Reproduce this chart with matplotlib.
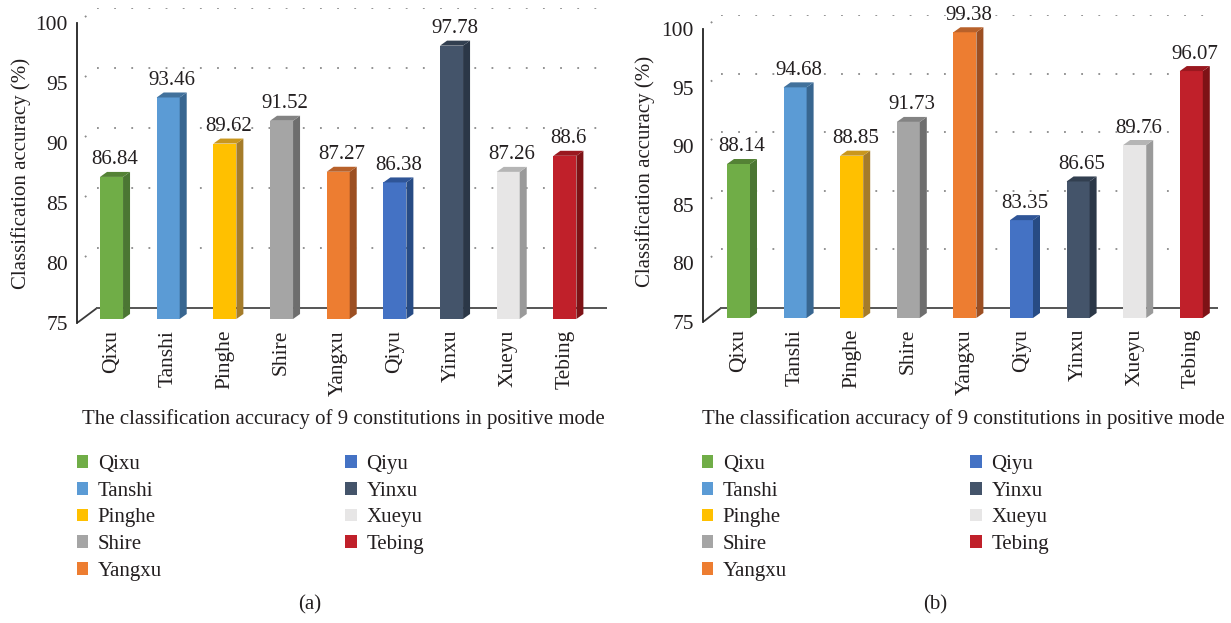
import numpy as np
import matplotlib
matplotlib.use("Agg")
import matplotlib.pyplot as plt
from matplotlib.patches import Polygon, Patch

# ---------------- data ----------------
categories = ["Qixu", "Tanshi", "Pinghe", "Shire", "Yangxu", "Qiyu", "Yinxu", "Xueyu", "Tebing"]
acc_a = [86.84, 93.46, 89.62, 91.52, 87.27, 86.38, 97.78, 87.26, 88.6]
acc_b = [88.14, 94.68, 88.85, 91.73, 99.38, 83.35, 86.65, 89.76, 96.07]
labels_a = ["86.84", "93.46", "89.62", "91.52", "87.27", "86.38", "97.78", "87.26", "88.6"]
labels_b = ["88.14", "94.68", "88.85", "91.73", "99.38", "83.35", "86.65", "89.76", "96.07"]
yticks = [75, 80, 85, 90, 95, 100]
ylabel = "Classification accuracy (%)"
xlabel = "The classification accuracy of 9 constitutions in positive mode"

front_colors = ["#70AD47", "#5B9BD5", "#FFC000", "#A5A5A5", "#ED7D31",
                "#4472C4", "#44546A", "#E7E6E6", "#C0202A"]
side_colors = ["#4B7633", "#386690", "#A57C2A", "#6E6E6E", "#9C4F22",
               "#274B84", "#2B3747", "#9A9A9A", "#7E1216"]
top_colors = ["#548235", "#41719C", "#C9971E", "#838383", "#B8612A",
              "#2F5597", "#323F50", "#B5B5B5", "#9A181F"]

plt.rcParams["font.family"] = ["Liberation Serif", "DejaVu Serif"]
FS = 15
TXT = "#231f20"

W, H = 1231, 623
fig = plt.figure(figsize=(W / 100, H / 100), dpi=100)


def panel(vals, labels, x0, xr, y75, y100, s, back_px, bar_off_px, xlab_c, ylab_c, tag_c, leg_xy, colsp):
    ppu = (y75 - y100) / 25.0
    ytop = y100 - back_px[1]
    ax = fig.add_axes([x0 / W, 1 - y75 / H, (xr - x0) / W, (y75 - ytop) / H])
    ax.set_xlim(-0.5, -0.5 + (xr - x0) / s)
    ax.set_ylim(75, 75 + (y75 - ytop) / ppu)
    bdx, bdy = back_px[0] / s, back_px[1] / ppu
    odx, ody = bar_off_px[0] / s, bar_off_px[1] / ppu
    bw = 23 / s
    ddx, ddy = 7 / s, 5 / ppu
    xend = ax.get_xlim()[1]
    x_left = -0.5

    # walls / floor
    ax.plot([x_left, x_left + bdx], [75, 75 + bdy], color="#3a3a3a", lw=1.3, zorder=1,
            solid_capstyle="butt")
    ax.plot([x_left + bdx, xend], [75 + bdy, 75 + bdy], color="#555555", lw=1.4, zorder=1)
    for v in yticks[1:]:
        ax.plot([x_left + bdx, xend], [v + bdy, v + bdy], color="#8a8a8a", lw=1.3,
                ls=(0, (1, 8.5)), zorder=1)
        ax.plot([x_left, x_left + bdx], [v, v + bdy], color="#8a8a8a", lw=1.3,
                ls=(4, (1, 8.5)), zorder=1)

    idx = np.arange(len(vals))
    xc = idx + odx
    heights = [v - 75 for v in vals]
    ax.bar(xc, heights, bottom=75 + ody, width=bw, color=front_colors, zorder=3,
           linewidth=0)
    for i, v in enumerate(vals):
        xl, xr_ = xc[i] - bw / 2, xc[i] + bw / 2
        yb, yt = 75 + ody, v + ody
        ax.add_patch(Polygon([(xr_, yb), (xr_ + ddx, yb + ddy), (xr_ + ddx, yt + ddy), (xr_, yt)],
                             closed=True, facecolor=side_colors[i], edgecolor="none", zorder=3))
        ax.add_patch(Polygon([(xl, yt), (xl + ddx, yt + ddy), (xr_ + ddx, yt + ddy), (xr_, yt)],
                             closed=True, facecolor=top_colors[i], edgecolor="none", zorder=3))
        ax.text(xc[i] + ddx / 2, yt + ddy + 2.5 / ppu, labels[i], ha="center", va="bottom",
                fontsize=FS, color=TXT, zorder=4)

    for sp in ["top", "right", "bottom"]:
        ax.spines[sp].set_visible(False)
    ax.spines["left"].set_bounds(75, 100)
    ax.spines["left"].set_color("#222222")
    ax.spines["left"].set_linewidth(1.3)
    ax.set_yticks(yticks)
    ax.set_yticklabels([str(t) for t in yticks], fontsize=FS + 0.5, color=TXT)
    ax.set_xticks(xc)
    ax.set_xticklabels(categories, rotation=90, fontsize=FS + 0.5, color=TXT)
    ax.tick_params(axis="both", length=0)
    ax.tick_params(axis="y", pad=6.5)
    ax.tick_params(axis="x", pad=5)
    ax.patch.set_alpha(0)

    fig.text(xlab_c[0] / W, 1 - xlab_c[1] / H, xlabel, ha="center", va="center",
             fontsize=FS, color=TXT)
    fig.text(ylab_c[0] / W, 1 - ylab_c[1] / H, ylabel, ha="center", va="center",
             rotation=90, fontsize=FS, color=TXT)
    fig.text(tag_c[0] / W, 1 - tag_c[1] / H, tag_c[2], ha="center", va="center",
             fontsize=FS, color=TXT)

    handles = [Patch(facecolor=c, edgecolor="none", label=n) for c, n in zip(front_colors, categories)]
    leg = fig.legend(handles=handles, ncol=2, loc="upper left",
                     bbox_to_anchor=(leg_xy[0] / W, 1 - leg_xy[1] / H), frameon=False,
                     fontsize=FS, handlelength=0.55, handleheight=0.55, handletextpad=0.45,
                     labelspacing=0.37, columnspacing=colsp, borderpad=0, borderaxespad=0)
    for t in leg.get_texts():
        t.set_color(TXT)
    return ax


panel(acc_a, labels_a, 77, 607, 323, 23, 56.67, (20, 15), (6.2, 4),
      (343, 419), (21, 173), (310, 605, "(a)"), (77, 455), 8.8)
panel(acc_b, labels_b, 703, 1218, 322, 29, 56.6, (18, 14), (7.2, 4),
      (963, 419), (645, 171), (935, 605, "(b)"), (702, 455), 8.8)

fig.savefig("out.png", dpi=100)
